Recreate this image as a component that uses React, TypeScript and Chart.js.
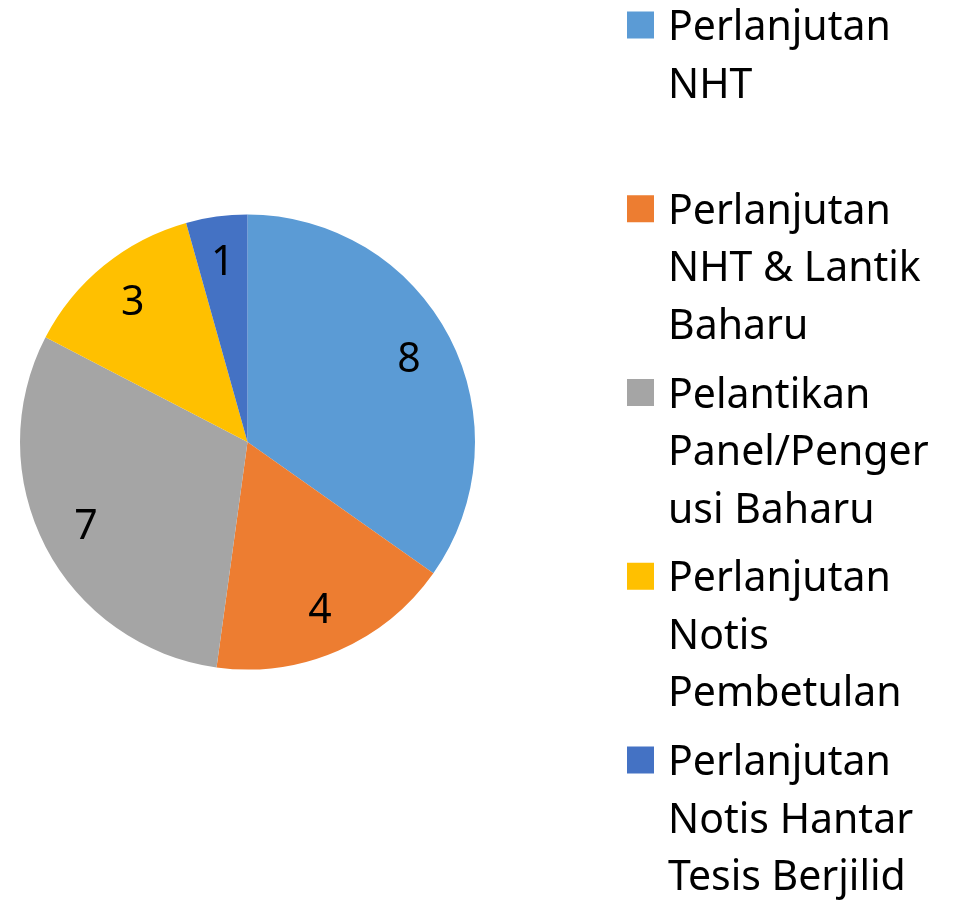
import React, { useEffect, useRef } from "react";
import { Chart, registerables } from "chart.js";

Chart.register(...registerables);

// Categories (as wrapped in the legend)
const categories: string[][] = [
  ["Perlanjutan", "NHT"],
  ["Perlanjutan", "NHT & Lantik", "Baharu"],
  ["Pelantikan", "Panel/Penger", "usi Baharu"],
  ["Perlanjutan", "Notis", "Pembetulan"],
  ["Perlanjutan", "Notis Hantar", "Tesis Berjilid"],
];
const values: number[] = [8, 4, 7, 3, 1];
const colors: string[] = ["#5B9BD5", "#ED7D31", "#A5A5A5", "#FFC000", "#4472C4"];

const FONT = '"Noto Sans", sans-serif';
const FONT_SIZE = 41;

const pieLabelsPlugin = {
  id: "pieLabels",
  afterDatasetsDraw(chart: any) {
    const ctx = chart.ctx;
    const meta = chart.getDatasetMeta(0);
    const ds = chart.data.datasets[0];
    ctx.save();
    ctx.font = `${FONT_SIZE}px ${FONT}`;
    ctx.fillStyle = "#000";
    ctx.textAlign = "center";
    ctx.textBaseline = "middle";
    meta.data.forEach((arc: any, i: number) => {
      const { x, y, startAngle, endAngle, outerRadius } = arc.getProps(
        ["x", "y", "startAngle", "endAngle", "outerRadius"],
        true
      );
      const mid = (startAngle + endAngle) / 2;
      const r = outerRadius * 0.8;
      ctx.fillText(String(ds.data[i]), x + Math.cos(mid) * r, y + Math.sin(mid) * r + 2);
    });
    ctx.restore();
  },
};

const legendPlugin = {
  id: "wrappedLegend",
  afterDraw(chart: any) {
    const ctx = chart.ctx;
    const labels = chart.data.labels as string[][];
    const bg = chart.data.datasets[0].backgroundColor as string[];
    const boxX = 627;
    const textX = 668;
    const firstBaseline = 40;
    const slot = 183.75;
    const lineH = 57.5;
    const box = 27;
    ctx.save();
    ctx.font = `${FONT_SIZE}px ${FONT}`;
    ctx.textAlign = "left";
    ctx.textBaseline = "alphabetic";
    labels.forEach((lines, i) => {
      const base = firstBaseline + i * slot;
      ctx.fillStyle = bg[i];
      ctx.fillRect(boxX, base - 15 - box / 2, box, box);
      ctx.fillStyle = "#000";
      lines.forEach((line, j) => {
        ctx.fillText(line, textX, base + j * lineH);
      });
    });
    ctx.restore();
  },
};

export default function App() {
  const canvasRef = useRef<HTMLCanvasElement | null>(null);

  useEffect(() => {
    if (!canvasRef.current) return;
    const chart = new Chart(canvasRef.current, {
      type: "pie",
      data: {
        labels: categories as any,
        datasets: [
          {
            data: values,
            backgroundColor: colors,
            borderWidth: 0,
          },
        ],
      },
      options: {
        animation: false,
        responsive: true,
        maintainAspectRatio: false,
        layout: {
          padding: { left: 20, right: 479, top: 214.5, bottom: 231.5 },
        },
        plugins: {
          legend: { display: false },
          tooltip: { enabled: false },
        },
      },
      plugins: [pieLabelsPlugin, legendPlugin],
    });
    return () => chart.destroy();
  }, []);

  return (
    <div
      style={{
        position: "fixed",
        left: 0,
        top: 0,
        width: 954,
        height: 901,
        background: "#fff",
      }}
    >
      <canvas ref={canvasRef} />
    </div>
  );
}
